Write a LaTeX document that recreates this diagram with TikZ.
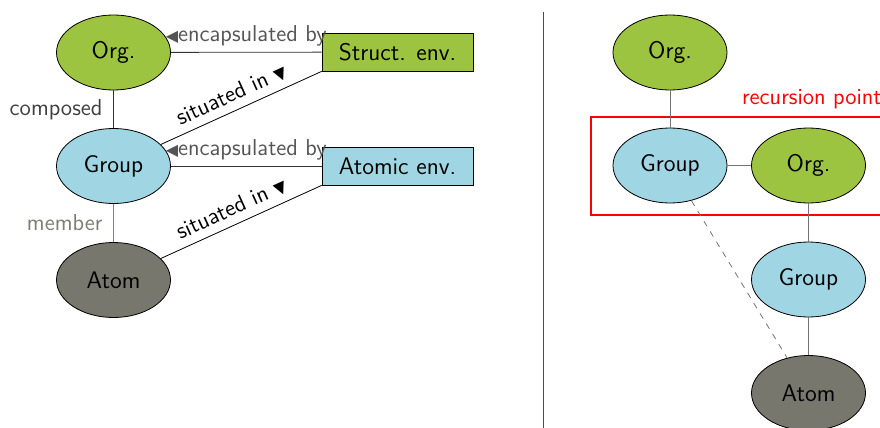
\documentclass[tikz,border=0pt]{standalone}
\usepackage{fontspec}
\newfontfamily\symfont{DejaVu Sans}
\usetikzlibrary{shapes.geometric}
\definecolor{orggreen}{RGB}{157,196,64}
\definecolor{grpblue}{RGB}{160,214,227}
\definecolor{atomgray}{RGB}{120,119,110}
\definecolor{lblgray}{RGB}{85,85,85}
\definecolor{memgray}{RGB}{125,125,115}
\newcommand{\tridown}{{\symfont\fontsize{8}{8}\selectfont ▼}}
\newcommand{\trileft}{{\symfont\fontsize{8}{8}\selectfont ◀}}
\begin{document}
\begin{tikzpicture}[x=0.5pt,y=-0.5pt,
  every node/.style={font=\sffamily\fontsize{12}{14}\selectfont},
  ell/.style={ellipse,draw=black,line width=0.4pt,minimum width=57pt,minimum height=37.5pt,inner sep=0pt},
  orgn/.style={ell,fill=orggreen},
  grpn/.style={ell,fill=grpblue},
  atmn/.style={ell,fill=atomgray},
  envbox/.style={rectangle,draw=black,line width=0.4pt,minimum width=75.5pt,minimum height=19pt,inner sep=0pt},
  lbl/.style={font=\sffamily\fontsize{11.5}{13}\selectfont},
  conn/.style={draw=black!80,line width=0.4pt},
  rconn/.style={draw=black!55,line width=0.4pt}
]
\useasboundingbox (0,0) rectangle (880,428);
% left
\node[orgn] (ol) at (113.5,52.5) {Org.};
\node[grpn] (gl) at (113.5,166) {Group};
\node[atmn] (al) at (113.5,280) {Atom};
\node[envbox,fill=orggreen] (se) at (397.5,52) {Struct. env.};
\node[envbox,fill=grpblue] (ae) at (397.5,166) {Atomic env.};
\draw[conn] (ol) -- node[lbl,left,text=black!75,xshift=-2pt] {composed} (gl);
\draw[conn,draw=black!50] (gl) -- node[lbl,left,text=memgray,xshift=-2pt] {member} (al);
\draw[conn] (ol) -- node[lbl,above,text=lblgray,yshift=-0.5pt,inner xsep=0pt] {\trileft encapsulated by} (se);
\draw[conn] (gl) -- node[lbl,above,text=lblgray,yshift=-0.5pt,inner xsep=0pt] {\trileft encapsulated by} (ae);
\draw[conn,draw=black] (gl) -- node[lbl,above,sloped,pos=0.48] {situated in \tridown} (se.south west);
\draw[conn,draw=black] (al) -- node[lbl,above,sloped,pos=0.48] {situated in \tridown} (ae.south west);
% divider
\coordinate (dt) at (543,12);
\coordinate (db) at (543,440);
\draw[draw=black!70,line width=0.5pt] (dt) -- (db);
% right
\coordinate (rb1) at (591,117);
\coordinate (rb2) at (900,215);
\draw[draw=red,line width=0.7pt] (rb1) rectangle (rb2);
\node[lbl,text=red,anchor=west] (rp) at (735,99) {recursion point};
\node[orgn] (ot) at (670,52.5) {Org.};
\node[grpn] (gr) at (670,165.5) {Group};
\node[orgn] (or) at (808.5,165.5) {Org.};
\node[grpn] (g2) at (808.5,279.5) {Group};
\node[atmn] (ar) at (808.5,393) {Atom};
\draw[rconn] (ot) -- (gr);
\draw[rconn] (gr) -- (or);
\draw[rconn] (or) -- (g2);
\draw[rconn] (g2) -- (ar);
\draw[rconn,dashed] (gr) -- (ar);
\end{tikzpicture}
\end{document}
